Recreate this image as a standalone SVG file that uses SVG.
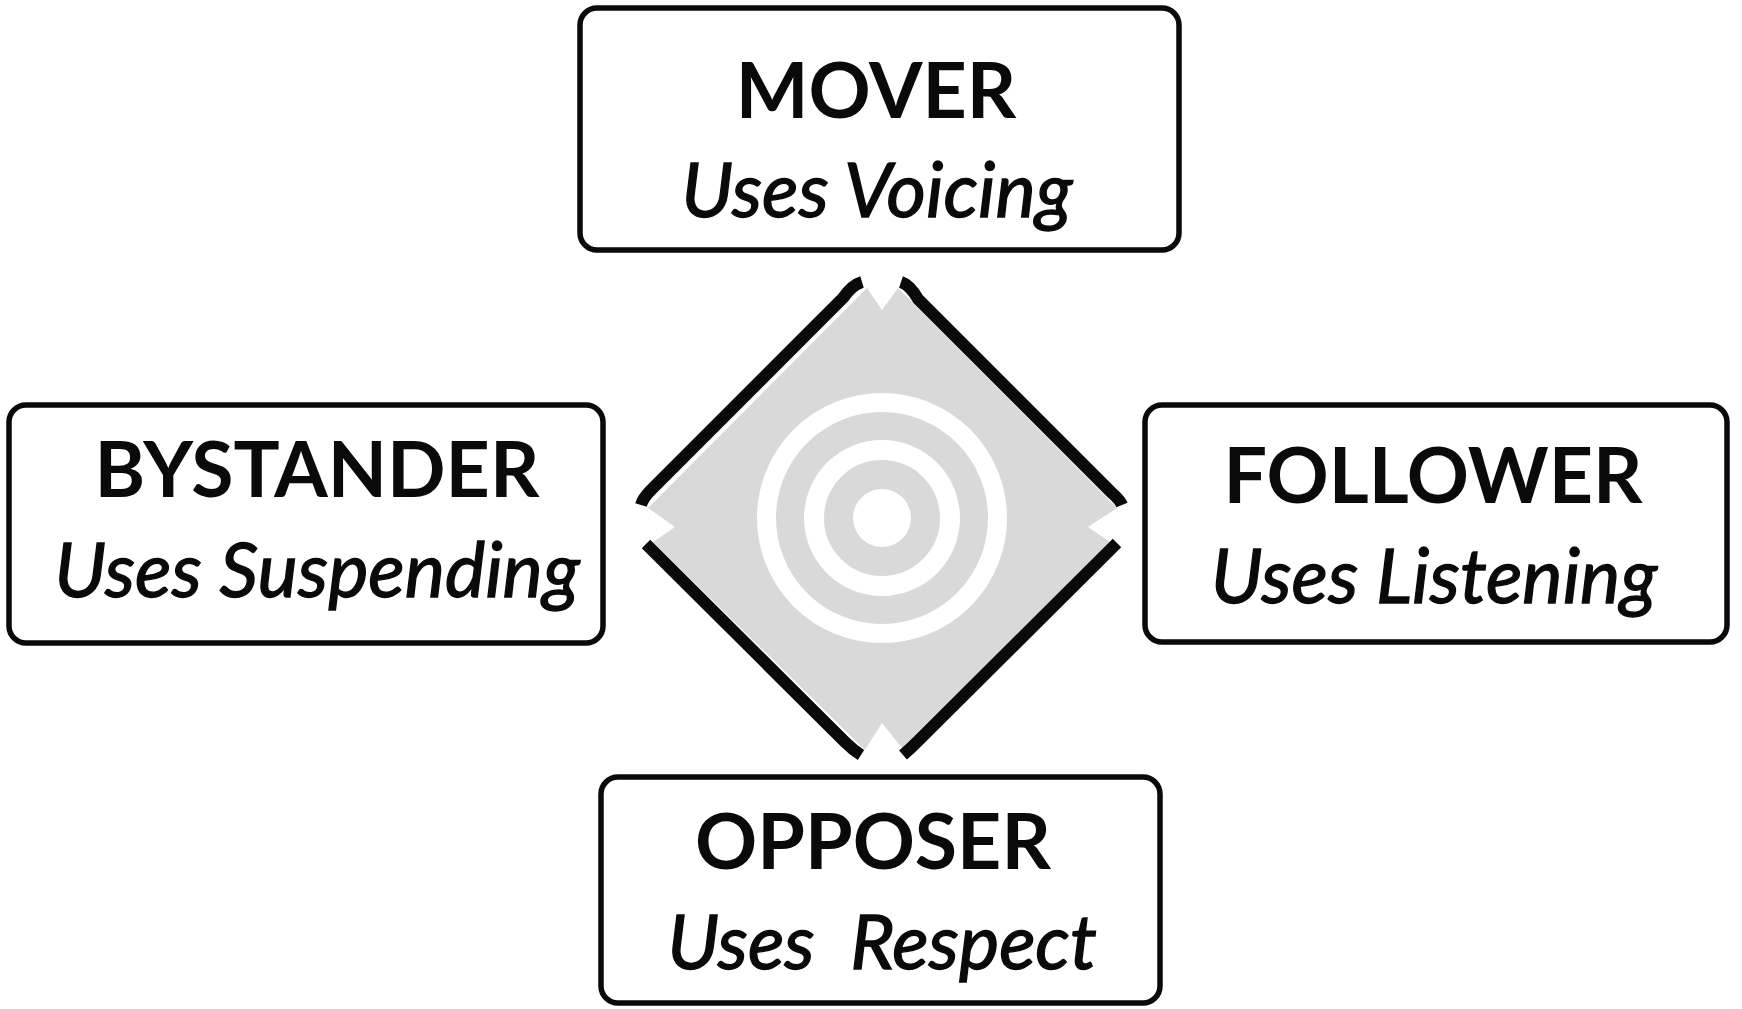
<svg xmlns="http://www.w3.org/2000/svg" width="1742" height="1009" viewBox="0 0 1742 1009">
<style>
.box{fill:#fff;stroke:#0a0a0a;stroke-width:5.5;}
.t{font-family:Lato,"Open Sans","Liberation Sans",sans-serif;font-size:77px;fill:#0a0a0a;text-anchor:middle;}
.b{font-weight:700;}
.i{font-style:italic;font-weight:400;font-size:76px;stroke:#0a0a0a;stroke-width:1.3;}
.side{fill:none;stroke:#0a0a0a;stroke-width:12;stroke-linecap:butt;}
.ring{fill:none;stroke:#fff;}
</style>
<rect width="1742" height="1009" fill="#fff"/>
<g id="center">
<polygon fill="#d9d9d9" points="867,288 882,310 898,288 1117,508 1088,527 1110,542 902,748 882,723 865,750 653,542 675,527 648,508"/>
<circle class="ring" cx="882" cy="518" r="115.5" stroke-width="19"/>
<circle class="ring" cx="882" cy="518" r="68" stroke-width="20"/>
<circle cx="882" cy="518" r="29" fill="#fff"/>
</g>
<g id="connectors">
<path class="side" d="M862,282 Q852,285 843,298 L651,490 Q643,498 641,505"/>
<path class="side" d="M901,282 Q910,285 918,299 L1112,493 Q1120,500 1122,505"/>
<path class="side" d="M646,544 L845,742 Q853,750 861,755"/>
<path class="side" d="M1117,543 L918,741 Q910,749 903,755"/>
</g>
<g id="mover">
<rect class="box" x="580" y="8" width="599" height="242" rx="17"/>
<text class="t b" x="876" y="118">MOVER</text>
<text class="t i" x="877" y="217">Uses Voicing</text>
</g>
<g id="bystander">
<rect class="box" x="9" y="405" width="594" height="238" rx="17"/>
<text class="t b" x="317" y="497">BYSTANDER</text>
<text class="t i" x="317" y="597">Uses Suspending</text>
</g>
<g id="follower">
<rect class="box" x="1145" y="405" width="582" height="237" rx="17"/>
<text class="t b" x="1433" y="503">FOLLOWER</text>
<text class="t i" x="1434" y="603">Uses Listening</text>
</g>
<g id="opposer">
<rect class="box" x="601" y="777" width="559" height="226" rx="17"/>
<text class="t b" x="873" y="869">OPPOSER</text>
<text class="t i" x="882" y="969" xml:space="preserve">Uses  Respect</text>
</g>
</svg>
